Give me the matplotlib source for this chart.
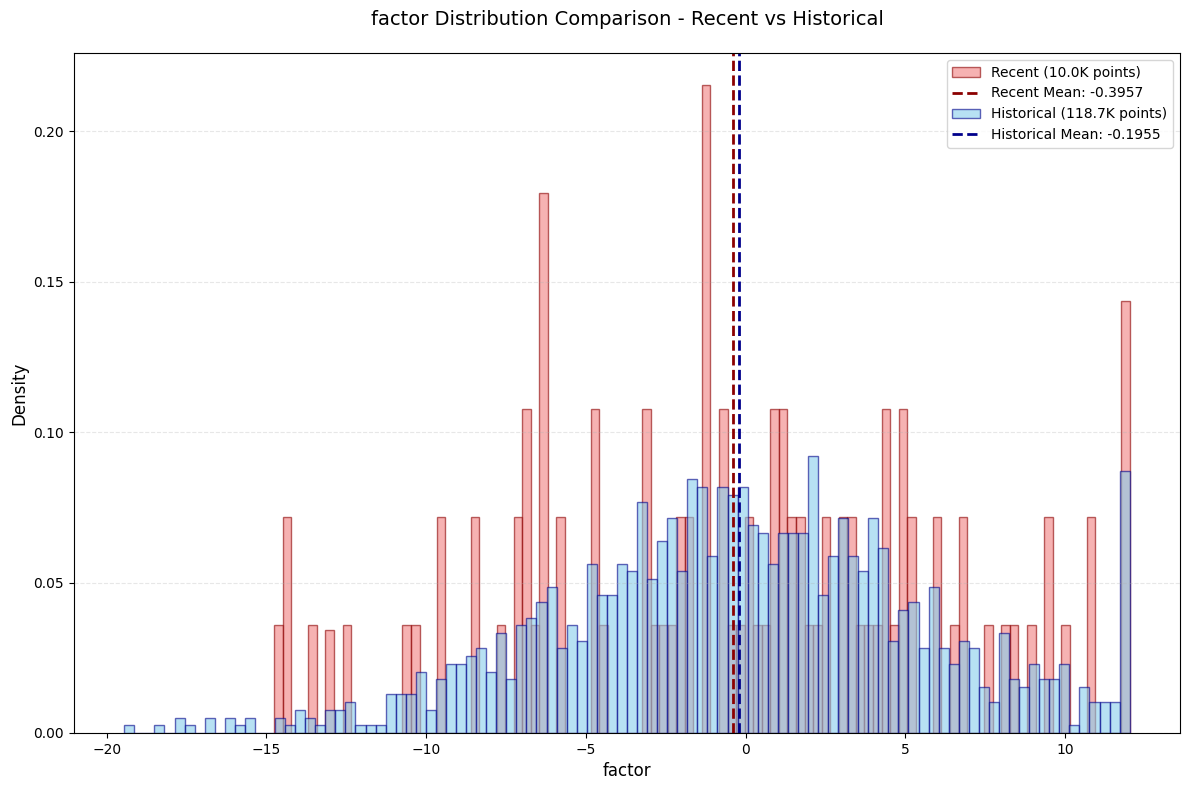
import numpy as np
import matplotlib
matplotlib.use("Agg")
import matplotlib.pyplot as plt

# ---- data ----
recent_range = (-14.76, 12.02)
historical_range = (-19.45, 12.02)
n_bins = 100

recent_density = [
    0.0359, 0.0717, 0, 0, 0.0359, 0, 0.0341, 0, 0.0359, 0,
    0, 0, 0, 0, 0, 0.0359, 0.0359, 0, 0, 0.0717,
    0, 0, 0, 0.0717, 0, 0, 0.0359, 0, 0.0717, 0.1076,
    0.0359, 0.1793, 0, 0.0717, 0, 0, 0, 0.1076, 0.0359, 0,
    0, 0, 0, 0.1076, 0.0359, 0.0359, 0.0359, 0.0717, 0.0717, 0,
    0.2152, 0, 0.1076, 0.0359, 0.0359, 0.0717, 0.0359, 0.0359, 0.1076, 0.1076,
    0.0717, 0.0717, 0.0359, 0.0359, 0.0717, 0, 0.0717, 0.0717, 0.0359, 0.0359,
    0.0359, 0.1076, 0.0359, 0.1076, 0.0717, 0, 0, 0.0717, 0, 0.0359,
    0.0717, 0, 0, 0.0359, 0, 0.0359, 0.0359, 0, 0.0359, 0,
    0.0717, 0, 0.0359, 0, 0, 0.0717, 0, 0, 0, 0.1435,
]

historical_density = [
    0.0026, 0, 0, 0.0026, 0, 0.0051, 0.0026, 0, 0.0051, 0,
    0.0051, 0.0026, 0.0051, 0, 0, 0.0051, 0.0026, 0.0077, 0.0051, 0.0026,
    0.0077, 0.0077, 0.0102, 0.0026, 0.0026, 0.0026, 0.0128, 0.0128, 0.0128, 0.0204,
    0.0077, 0.0179, 0.0230, 0.0230, 0.0256, 0.0281, 0.0204, 0.0332, 0.0179, 0.0358,
    0.0383, 0.0435, 0.0486, 0.0281, 0.0358, 0.0307, 0.0562, 0.0460, 0.0460, 0.0562,
    0.0537, 0.0767, 0.0511, 0.0639, 0.0716, 0.0537, 0.0843, 0.0818, 0.0588, 0.0818,
    0.0792, 0.0818, 0.0690, 0.0665, 0.0562, 0.0665, 0.0665, 0.0665, 0.0920, 0.0460,
    0.0588, 0.0716, 0.0588, 0.0537, 0.0716, 0.0613, 0.0307, 0.0409, 0.0435, 0.0281,
    0.0486, 0.0281, 0.0230, 0.0307, 0.0281, 0.0153, 0.0102, 0.0332, 0.0179, 0.0153,
    0.0230, 0.0179, 0.0179, 0.0230, 0.0026, 0.0153, 0.0102, 0.0102, 0.0102, 0.0869,
]

recent_mean = -0.3957
historical_mean = -0.1955
recent_label = "Recent (10.0K points)"
historical_label = "Historical (118.7K points)"

# ---- plot ----
r_edges = np.linspace(recent_range[0], recent_range[1], n_bins + 1)
h_edges = np.linspace(historical_range[0], historical_range[1], n_bins + 1)
r_centers = (r_edges[:-1] + r_edges[1:]) / 2
h_centers = (h_edges[:-1] + h_edges[1:]) / 2

fig, ax = plt.subplots(figsize=(11.89, 7.9), dpi=100)

ax.hist(r_centers, bins=r_edges, weights=recent_density, color="lightcoral",
        alpha=0.6, edgecolor="darkred", linewidth=1, label=recent_label)
ax.axvline(recent_mean, color="darkred", linestyle="--", linewidth=2,
           label=f"Recent Mean: {recent_mean:.4f}")
ax.hist(h_centers, bins=h_edges, weights=historical_density, color="skyblue",
        alpha=0.6, edgecolor="darkblue", linewidth=1, label=historical_label)
ax.axvline(historical_mean, color="darkblue", linestyle="--", linewidth=2,
           label=f"Historical Mean: {historical_mean:.4f}")

ax.set_title("factor Distribution Comparison - Recent vs Historical", fontsize=14, pad=20)
ax.set_xlabel("factor", fontsize=12)
ax.set_ylabel("Density", fontsize=12)
ax.legend(loc="upper right")
ax.grid(axis="y", alpha=0.3, linestyle="--")

fig.subplots_adjust(left=0.0622, right=0.9924, top=0.9329, bottom=0.0722)
fig.savefig("out.png", dpi=100)
